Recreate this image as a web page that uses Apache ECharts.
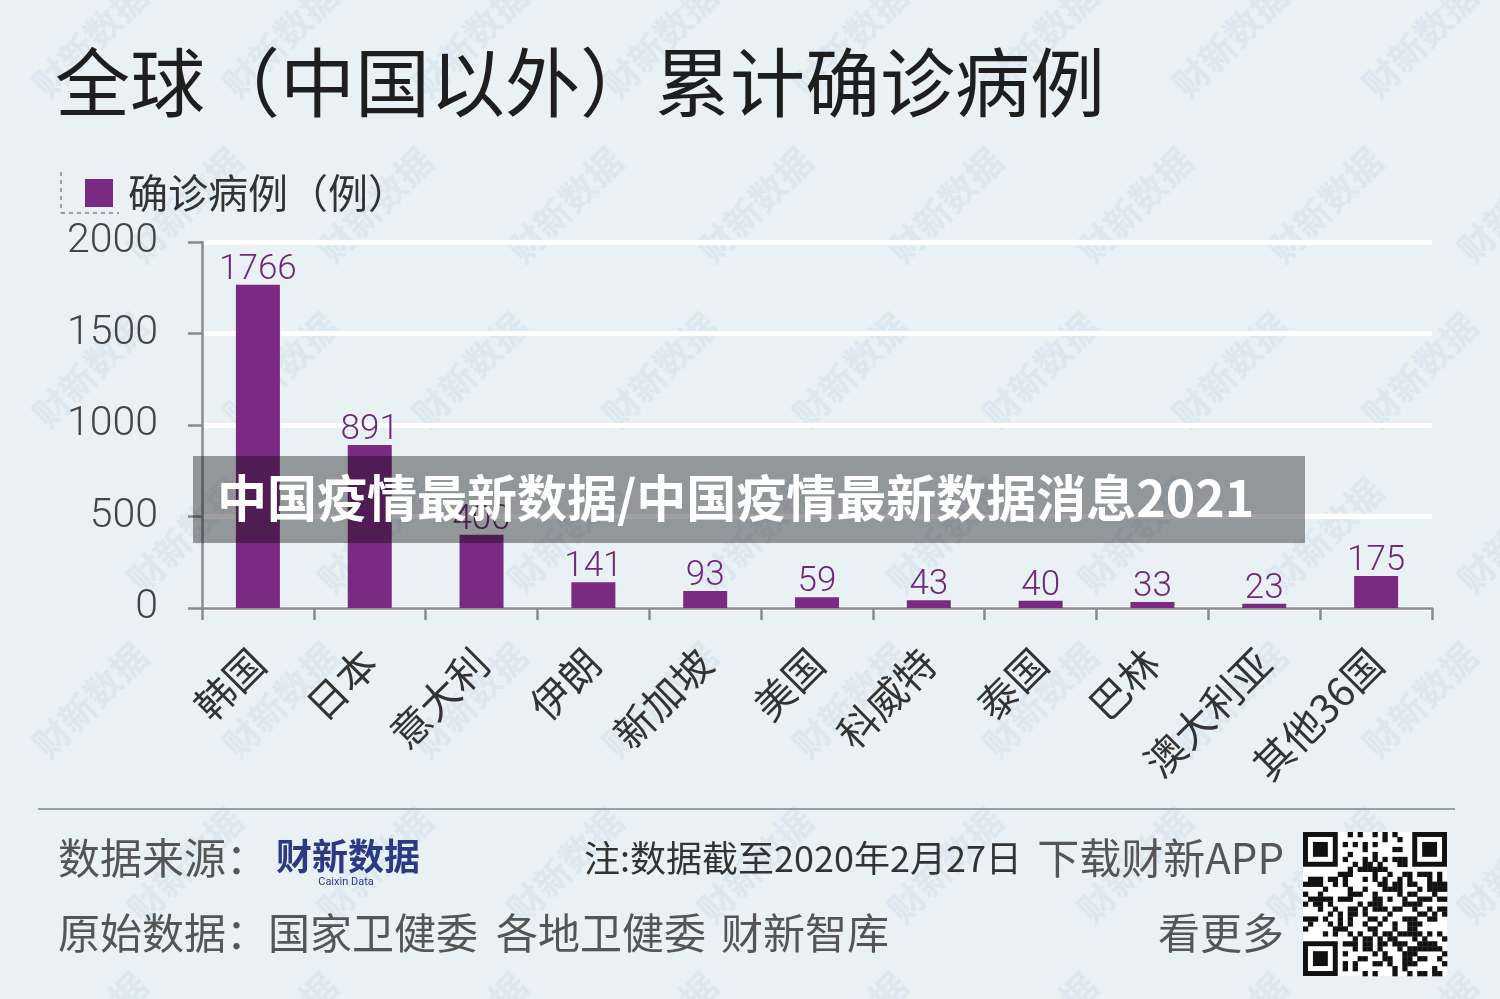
<!DOCTYPE html>
<html>
<head>
<meta charset="utf-8">
<script src="https://cdn.jsdelivr.net/npm/echarts@6/dist/echarts.min.js"></script>
<style>
html,body{margin:0;padding:0;background:#e9f1f5;}
#main{width:1500px;height:999px;}
</style>
</head>
<body>
<div id="main"></div>
<script>
const categories = ['韩国','日本','意大利','伊朗','新加坡','美国','科威特','泰国','巴林','澳大利亚','其他36国'];
const caseValues = [1766, 891, 400, 141, 93, 59, 43, 40, 33, 23, 175];
const seriesName = '确诊病例（例）';
const yTicks = { min: 0, max: 2000, interval: 500 };

const CJK = '"Noto Sans CJK SC", "Noto Sans", sans-serif';
const NUM = 'Roboto, "Liberation Sans", sans-serif';
const purple = '#7b2a83';

const chart = echarts.init(document.getElementById('main'), null, {renderer:'canvas'});

// watermark lattice
const wm = [];
for (let r = 0; r < 7; r++) {
  for (let c = 0; c < 9; c++) {
    const x = 90 + c * 190 + (r % 2) * 95;
    const y = 40 + r * 165;
    wm.push({
      type: 'text', x: x, y: y, rotation: Math.PI / 4, z: 0, silent: true,
      style: { text: '财新数据', font: 'bold 36px ' + CJK, fill: 'rgba(140,175,205,0.12)', align: 'center', verticalAlign: 'middle' }
    });
  }
}

// decorative QR-like block
const qr = [];
const N = 29, qx = 1303, qy = 832, ms = 144 / N;
function finder(cx, cy) {
  qr.push({type:'rect', shape:{x:qx+cx*ms, y:qy+cy*ms, width:7*ms, height:7*ms}, style:{fill:'#111'}});
  qr.push({type:'rect', shape:{x:qx+(cx+1)*ms, y:qy+(cy+1)*ms, width:5*ms, height:5*ms}, style:{fill:'#fff'}});
  qr.push({type:'rect', shape:{x:qx+(cx+2)*ms, y:qy+(cy+2)*ms, width:3*ms, height:3*ms}, style:{fill:'#111'}});
}
qr.push({type:'rect', shape:{x:qx, y:qy, width:144, height:144}, style:{fill:'#fff'}});
for (let i = 0; i < N; i++) {
  for (let j = 0; j < N; j++) {
    const inF = (i < 8 && j < 8) || (i < 8 && j > N - 9) || (i > N - 9 && j < 8);
    if (inF) continue;
    const h = ((i * 73856093) ^ (j * 19349663) ^ (i * j * 83492791)) >>> 0;
    if ((h % 7) < 3) {
      qr.push({type:'rect', shape:{x:qx+j*ms, y:qy+i*ms, width:ms+0.3, height:ms+0.3}, style:{fill:'#111'}});
    }
  }
}
finder(0, 0); finder(N - 7, 0); finder(0, N - 7);

function footText(x, y, t, opts) {
  return Object.assign({ type: 'text', z: 5, x: x, y: y,
    style: Object.assign({ text: t, font: '42px ' + CJK, fill: '#555', verticalAlign: 'middle' }, opts || {}) });
}

const option = {
  backgroundColor: '#e9f1f5',
  animation: false,
  title: {
    text: '全球（中国以外）累计确诊病例',
    left: 50, top: 40,
    textStyle: { fontFamily: CJK, fontSize: 75, fontWeight: 'normal', color: '#1e1e1e' }
  },
  legend: {
    left: 80, top: 168,
    itemWidth: 28, itemHeight: 28,
    icon: 'rect',
    data: [seriesName],
    textStyle: { fontFamily: CJK, fontSize: 40, color: '#333', padding: [0, 0, 0, 10] }
  },
  grid: { left: 202, right: 68, top: 242, bottom: 391, containLabel: false },
  xAxis: {
    type: 'category',
    data: categories,
    axisLine: { lineStyle: { color: '#8a8a8a', width: 2.5 } },
    axisTick: { show: true, length: 12, lineStyle: { color: '#8a8a8a', width: 2.5 } },
    axisLabel: { interval: 0, rotate: 45, fontFamily: CJK, fontSize: 40, color: '#333', margin: 48 }
  },
  yAxis: {
    type: 'value',
    min: yTicks.min, max: yTicks.max, interval: yTicks.interval,
    axisLine: { show: true, lineStyle: { color: '#8a8a8a', width: 2.5 } },
    axisTick: { show: true, length: 14, lineStyle: { color: '#8a8a8a', width: 2.5 } },
    axisLabel: { fontFamily: NUM, fontSize: 41, fontWeight: 300, color: '#444', margin: 44,
      formatter: function (v) { return String(v); } },
    splitLine: { lineStyle: { color: '#ffffff', width: 5 } }
  },
  series: [{
    name: seriesName,
    type: 'bar',
    data: caseValues,
    barWidth: 44,
    itemStyle: { color: purple },
    label: {
      show: true, position: 'top', distance: 8, offset: [0, 11],
      fontFamily: NUM, fontSize: 35, fontWeight: 300, color: '#6e2a78'
    },
    z: 2
  }],
  graphic: [].concat(wm, [
    // legend dashed frame
    { type: 'line', z: 5, shape: { x1: 61, y1: 172, x2: 61, y2: 213 }, style: { stroke: '#9aa0a4', lineWidth: 2, lineDash: [4, 4] } },
    { type: 'line', z: 5, shape: { x1: 61, y1: 213, x2: 119, y2: 213 }, style: { stroke: '#9aa0a4', lineWidth: 2, lineDash: [4, 4] } },
    // footer separator
    { type: 'line', z: 5, shape: { x1: 38, y1: 809, x2: 1455, y2: 809 }, style: { stroke: '#7e878c', lineWidth: 1.5 } },
    footText(58, 858, '数据来源：'),
    { type: 'text', z: 5, x: 276, y: 856, style: { text: '财新数据', font: 'bold 36px ' + CJK, fill: '#2c3a84', verticalAlign: 'middle' } },
    { type: 'text', z: 5, x: 346, y: 882, style: { text: 'Caixin Data', font: '11px ' + NUM, fill: '#2c3a84', align: 'center', verticalAlign: 'middle' } },
    footText(584, 858, '注:数据截至2020年2月27日', { font: '36px ' + CJK, fill: '#333' }),
    footText(1284, 858, '下载财新APP', { align: 'right' }),
    footText(58, 933, '原始数据：'),
    footText(268, 933, '国家卫健委'),
    footText(496, 933, '各地卫健委'),
    footText(721, 933, '财新智库'),
    footText(1284, 933, '看更多', { align: 'right' })
  ], qr.map(o => Object.assign({ z: 5 }, o)), [
    // overlay banner
    { type: 'rect', z: 50, shape: { x: 193, y: 456, width: 1112, height: 87 }, style: { fill: 'rgba(10,10,10,0.39)' } },
    { type: 'text', z: 51, x: 217, y: 498, style: { text: '中国疫情最新数据/中国疫情最新数据消息2021', font: 'bold 50px ' + CJK, fill: '#ffffff', verticalAlign: 'middle' } }
  ])
};
chart.setOption(option);
</script>
</body>
</html>
